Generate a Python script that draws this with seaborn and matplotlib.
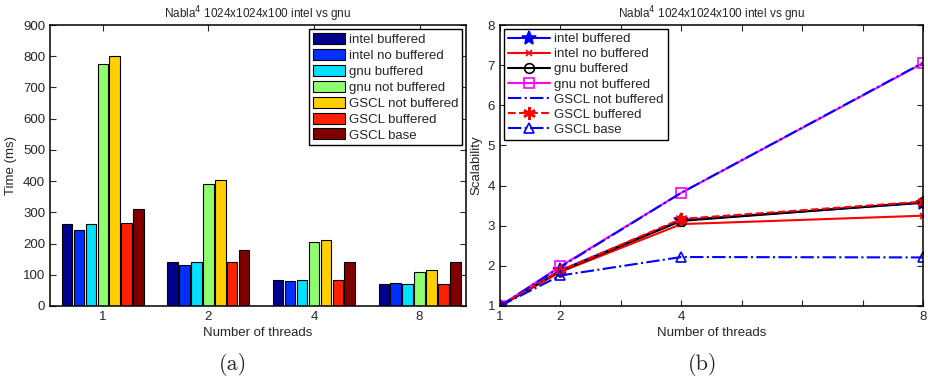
import seaborn as sns
import numpy as np
import pandas as pd
import matplotlib.pyplot as plt
from matplotlib.patches import Patch

# data
threads = [1, 2, 4, 8]
series = ['intel buffered', 'intel no buffered', 'gnu buffered', 'gnu not buffered',
          'GSCL not buffered', 'GSCL buffered', 'GSCL base']

time_ms = {
    'intel buffered':    [263, 142, 84, 72],
    'intel no buffered': [243, 130, 80, 75],
    'gnu buffered':      [262, 142, 84, 72],
    'gnu not buffered':  [774, 391, 204, 110],
    'GSCL not buffered': [800, 404, 211, 114],
    'GSCL buffered':     [267, 142, 84, 72],
    'GSCL base':         [311, 180, 140, 141],
}

scalability = {
    'intel buffered':    [1, 1.89, 3.14, 3.57],
    'intel no buffered': [1, 1.85, 3.04, 3.25],
    'gnu buffered':      [1, 1.87, 3.12, 3.58],
    'gnu not buffered':  [1, 1.99, 3.82, 7.05],
    'GSCL not buffered': [1, 1.97, 3.82, 7.06],
    'GSCL buffered':     [1, 1.88, 3.17, 3.60],
    'GSCL base':         [1, 1.76, 2.22, 2.21],
}

bar_colors = ['#00008f', '#0030ff', '#00e0ff', '#8fff6f', '#ffcf00', '#ff2000', '#800000']

title = r'Nabla$^4$ 1024x1024x100 intel vs gnu'

sns.set_style('ticks')
plt.rcParams['font.family'] = ['Liberation Sans', 'DejaVu Sans']
plt.rcParams['xtick.direction'] = 'in'
plt.rcParams['ytick.direction'] = 'in'

fig = plt.figure(figsize=(9.29, 3.84), dpi=100)
ax1 = fig.add_axes([50 / 929, 1 - 306 / 384, 416 / 929, 281 / 384])
ax2 = fig.add_axes([500 / 929, 1 - 306 / 384, 423 / 929, 281 / 384])

# ---- (a) bar chart
bars_df = pd.DataFrame([(str(t), s, time_ms[s][i]) for s in series for i, t in enumerate(threads)],
                       columns=['threads', 'series', 'time'])
sns.barplot(data=bars_df, x='threads', y='time', hue='series', hue_order=series,
            palette=bar_colors, saturation=1, width=0.79, gap=0.12, edgecolor='black',
            linewidth=0.8, legend=False, ax=ax1)
ax1.set_xlim(-0.5, 3.44)
ax1.set_ylim(0, 900)
ax1.set_yticks(range(0, 901, 100))
ax1.set_xlabel('Number of threads', fontsize=9.5, labelpad=3)
ax1.set_ylabel('Time (ms)', fontsize=9.5)
ax1.set_title(title, fontsize=8.5, pad=5)
handles = [Patch(facecolor=c, edgecolor='black', linewidth=0.8) for c in bar_colors]
leg1 = ax1.legend(handles, series, loc='upper right', fontsize=9.5, frameon=True, fancybox=False,
                  edgecolor='black', framealpha=1, borderaxespad=0.3, labelspacing=0.22,
                  handlelength=2.4, handleheight=0.9, handletextpad=0.3, borderpad=0.3)
leg1.get_frame().set_linewidth(1)

# ---- (b) scalability
styles = {
    'intel buffered':    dict(color='blue', linestyle='-', marker='*', markersize=10),
    'intel no buffered': dict(color='red', linestyle='-', marker='x', markersize=5),
    'gnu buffered':      dict(color='black', linestyle='-', marker='o', markersize=7, mfc='none'),
    'gnu not buffered':  dict(color='magenta', linestyle='-', marker='s', markersize=7, mfc='none'),
    'GSCL not buffered': dict(color='blue', linestyle='-.', marker=None),
    'GSCL buffered':     dict(color='red', linestyle='--', marker=(6, 2, 0), markersize=9, mew=1.8),
    'GSCL base':         dict(color='blue', linestyle='-.', marker='^', markersize=7, mfc='none'),
}
for s in series:
    st = styles[s]
    sns.lineplot(x=threads, y=scalability[s], ax=ax2, label=s, linewidth=1.5,
                 color=st['color'], linestyle=st['linestyle'], marker=st['marker'],
                 markersize=st.get('markersize', 6), markerfacecolor=st.get('mfc', st['color']),
                 markeredgecolor=st['color'], markeredgewidth=st.get('mew', 1.2))
ax2.set_xlim(1, 8)
ax2.set_ylim(1, 8)
ax2.set_xticks(range(1, 9))
ax2.set_xticklabels(['1', '2', '', '4', '', '', '', '8'])
ax2.set_yticks(range(1, 9))
ax2.set_xlabel('Number of threads', fontsize=9.5, labelpad=3)
ax2.set_ylabel('Scalability', fontsize=9.5)
ax2.set_title(title, fontsize=8.5, pad=5)
leg2 = ax2.legend(loc='upper left', fontsize=9.5, frameon=True, fancybox=False, edgecolor='black',
                  framealpha=1, borderaxespad=0.3, labelspacing=0.22, handlelength=3.2,
                  handletextpad=0.3, borderpad=0.3)
leg2.get_frame().set_linewidth(1)

for ax in (ax1, ax2):
    ax.tick_params(labelsize=9.5, top=True, right=True, length=4, width=0.8)
    for sp in ax.spines.values():
        sp.set_visible(True)
        sp.set_linewidth(1.1)
        sp.set_color('black')

fig.text(233 / 929, 1 - 364 / 384, '(a)', family='cmr10', fontsize=16, ha='center', va='center')
fig.text(703 / 929, 1 - 364 / 384, '(b)', family='cmr10', fontsize=16, ha='center', va='center')

fig.savefig('out.png', dpi=100)
